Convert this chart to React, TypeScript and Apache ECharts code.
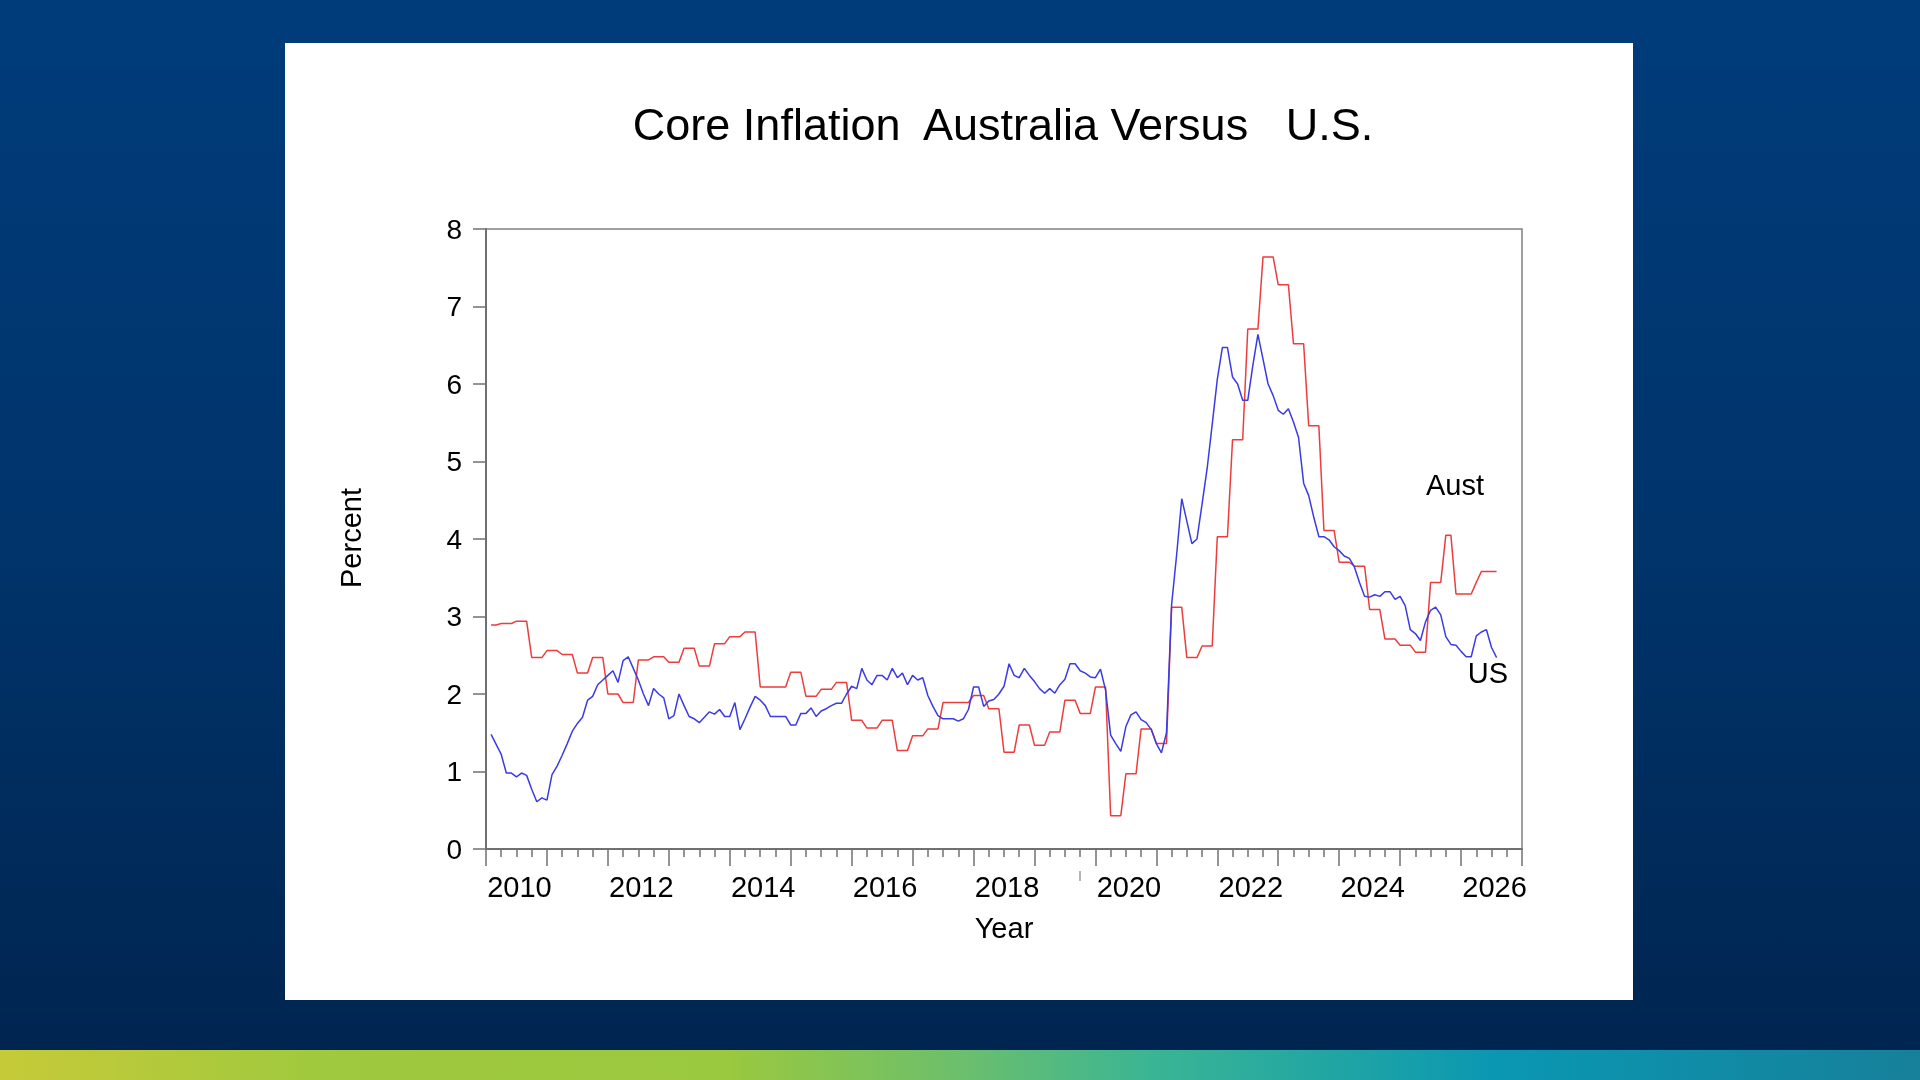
import React, { useEffect, useRef } from "react";
import * as echarts from "echarts";

// ---- Data ----
const START_YEAR = 2010; // month n (1 = Jan 2010) is plotted at START_YEAR + n/12

// US core inflation, monthly, Jan 2010 .. Jul 2026
const usMonthly: number[] = [
  1.48, 1.35, 1.22, 0.98, 0.98, 0.93, 0.98, 0.95, 0.77, 0.61, 0.66, 0.63,
  0.96, 1.07, 1.21, 1.36, 1.52, 1.62, 1.70, 1.92, 1.97, 2.12, 2.18, 2.24,
  2.30, 2.15, 2.43, 2.48, 2.33, 2.18, 2.00, 1.85, 2.07, 2.00, 1.95, 1.68,
  1.72, 2.00, 1.85, 1.71, 1.68, 1.63, 1.70, 1.77, 1.74, 1.80, 1.71, 1.71,
  1.89, 1.54, 1.68, 1.83, 1.97, 1.92, 1.85, 1.71, 1.71, 1.71, 1.71, 1.60,
  1.60, 1.75, 1.75, 1.82, 1.71, 1.78, 1.81, 1.85, 1.88, 1.88, 2.00, 2.10,
  2.07, 2.33, 2.18, 2.12, 2.24, 2.24, 2.18, 2.33, 2.21, 2.27, 2.12, 2.24,
  2.18, 2.21, 1.98, 1.84, 1.72, 1.68, 1.68, 1.68, 1.65, 1.68, 1.80, 2.09,
  2.09, 1.84, 1.91, 1.93, 2.00, 2.10, 2.39, 2.24, 2.21, 2.33, 2.24, 2.16,
  2.07, 2.01, 2.07, 2.01, 2.12, 2.19, 2.39, 2.39, 2.30, 2.27, 2.22, 2.21,
  2.32, 2.05, 1.47, 1.36, 1.26, 1.58, 1.73, 1.77, 1.67, 1.63, 1.54, 1.36,
  1.24, 1.50, 3.15, 3.80, 4.52, 4.23, 3.94, 4.00, 4.45, 4.91, 5.48, 6.06,
  6.47, 6.47, 6.09, 6.00, 5.79, 5.79, 6.24, 6.64, 6.32, 6.00, 5.85, 5.66,
  5.61, 5.68, 5.51, 5.31, 4.72, 4.56, 4.28, 4.03, 4.03, 3.99, 3.90, 3.85,
  3.78, 3.75, 3.64, 3.44, 3.26, 3.25, 3.28, 3.26, 3.32, 3.32, 3.22, 3.26,
  3.14, 2.83, 2.78, 2.69, 2.93, 3.08, 3.12, 3.02, 2.74, 2.64, 2.63, 2.55,
  2.48, 2.48, 2.75, 2.80, 2.83, 2.60, 2.47,
];

// Australian core inflation, quarterly steps; step k holds months 3k .. 3k+2
const austQuarterly: number[] = [
  2.89, 2.91, 2.94, 2.47, 2.56, 2.51, 2.27, 2.47, 2.00, 1.89,
  2.44, 2.48, 2.41, 2.59, 2.36, 2.65, 2.74, 2.80, 2.09, 2.09,
  2.28, 1.97, 2.06, 2.15, 1.66, 1.56, 1.66, 1.27, 1.46, 1.55,
  1.89, 1.89, 1.98, 1.81, 1.25, 1.60, 1.34, 1.51, 1.92, 1.75,
  2.09, 0.43, 0.97, 1.55, 1.36, 3.12, 2.47, 2.62, 4.03, 5.28,
  6.71, 7.64, 7.28, 6.52, 5.46, 4.11, 3.70, 3.65, 3.09, 2.71,
  2.63, 2.54, 3.44,
];
// Most recent Australian readings, monthly (months 189 .. 199)
const austMonthlyTail: number[] = [4.05, 4.05, 3.29, 3.29, 3.29, 3.29, 3.44, 3.58, 3.58, 3.58, 3.58];

// x-axis tick labels (every year is a category band; every 2nd label shown)
const yearLabels: string[] = [
  "2010", "2011", "2012", "2013", "2014", "2015", "2016", "2017", "2018",
  "2019", "2020", "2021", "2022", "2023", "2024", "2025", "2026",
];

const TITLE = "Core Inflation  Australia Versus   U.S.";
const FONT = "'Liberation Sans', Arial, Helvetica, sans-serif";

function buildSeries() {
  const us = usMonthly.map((v, i) => [START_YEAR + (i + 1) / 12, v]);
  const austMonths: number[] = [];
  const quarterMonths = austQuarterly.length * 3 - 1; // months 1 .. 188
  for (let n = 1; n <= quarterMonths; n++) austMonths.push(austQuarterly[Math.floor(n / 3)]);
  austMonthlyTail.forEach((v) => austMonths.push(v));
  const aust = austMonths.map((v, i) => [START_YEAR + (i + 1) / 12, v]);
  return { us, aust };
}

function label(text: string, x: number, y: number, size: number, extra: any = {}) {
  return {
    type: "text",
    z: 10,
    ...extra,
    style: {
      text, x: extra.rotation ? 0 : x, y: extra.rotation ? 0 : y,
      fontSize: size, fontFamily: FONT, fill: "#000",
      align: "center", verticalAlign: "middle",
      textAlign: "center", textVerticalAlign: "middle",
    },
  };
}

export default function App() {
  const ref = useRef<HTMLDivElement>(null);

  useEffect(() => {
    if (!ref.current) return;
    const chart = echarts.init(ref.current, undefined, { renderer: "svg" });
    const { us, aust } = buildSeries();
    const axisColor = "#707070";

    const option: any = {
      animation: false,
      graphic: [
        {
          type: "rect",
          z: -100,
          shape: { x: 0, y: 0, width: 1920, height: 1080 },
          style: {
            fill: {
              type: "linear", x: 0, y: 0, x2: 0, y2: 1,
              colorStops: [
                { offset: 0, color: "#003c7b" },
                { offset: 0.5, color: "#00346b" },
                { offset: 1, color: "#00244f" },
              ],
            },
          },
        },
        {
          type: "rect",
          z: -99,
          shape: { x: 0, y: 1050, width: 1920, height: 30 },
          style: {
            fill: {
              type: "linear", x: 0, y: 0, x2: 1, y2: 0,
              colorStops: [
                { offset: 0, color: "#c6ca38" },
                { offset: 0.17, color: "#9fc93e" },
                { offset: 0.38, color: "#9ac83f" },
                { offset: 0.5, color: "#6cbf6c" },
                { offset: 0.6, color: "#3ab594" },
                { offset: 0.78, color: "#0a97b2" },
                { offset: 1, color: "#17809a" },
              ],
            },
          },
        },
        {
          type: "rect",
          z: -98,
          shape: { x: 285, y: 43, width: 1348, height: 957 },
          style: { fill: "#ffffff" },
        },
        label(TITLE, 1003, 124, 45),
        label("Year", 1004, 928, 29),
        label("Percent", 351, 538, 29, { x: 351, y: 538, rotation: Math.PI / 2 }),
        label("Aust", 1455, 485, 29),
        label("US", 1488, 673, 29),
        {
          type: "line",
          z: 10,
          shape: { x1: 1080, y1: 871, x2: 1080, y2: 881 },
          style: { stroke: "#9a9a9a", lineWidth: 1.5 },
        },
      ],
      grid: {
        left: 486,
        top: 229,
        width: 1036,
        height: 620,
        show: true,
        borderColor: "#808080",
        borderWidth: 1.5,
        backgroundColor: "transparent",
        containLabel: false,
      },
      xAxis: [
        {
          type: "value",
          min: 2010,
          max: 2027,
          interval: 1,
          axisLine: { show: true, lineStyle: { color: axisColor, width: 2 } },
          axisTick: { show: true, length: 17, lineStyle: { color: axisColor, width: 1.5 } },
          minorTick: { show: true, splitNumber: 4, length: 8, lineStyle: { color: axisColor, width: 1.5 } },
          axisLabel: { show: false },
          splitLine: { show: false },
          minorSplitLine: { show: false },
        },
        {
          type: "category",
          data: yearLabels,
          boundaryGap: true,
          position: "bottom",
          axisLine: { show: false },
          axisTick: { show: false },
          splitLine: { show: false },
          axisLabel: {
            interval: 1,
            margin: 23,
            fontSize: 29,
            lineHeight: 29,
            padding: [0, 0, 0, 6],
            color: "#000",
            fontFamily: FONT,
          },
        },
      ],
      yAxis: {
        type: "value",
        min: 0,
        max: 8,
        interval: 1,
        axisLine: { show: true, lineStyle: { color: axisColor, width: 2 } },
        axisTick: { show: true, length: 13, lineStyle: { color: axisColor, width: 1.5 } },
        axisLabel: { margin: 24, fontSize: 28, color: "#000", fontFamily: FONT },
        splitLine: { show: false },
      },
      series: [
        {
          type: "line",
          name: "Aust",
          xAxisIndex: 0,
          data: aust,
          showSymbol: false,
          symbol: "none",
          lineStyle: { color: "#ec3d3d", width: 1.5 },
          z: 3,
        },
        {
          type: "line",
          name: "US",
          xAxisIndex: 0,
          data: us,
          showSymbol: false,
          symbol: "none",
          lineStyle: { color: "#3b3be4", width: 1.5 },
          z: 4,
        },
      ],
    };

    chart.setOption(option);
    return () => chart.dispose();
  }, []);

  return (
    <div
      ref={ref}
      style={{ position: "fixed", left: 0, top: 0, width: "1920px", height: "1080px" }}
    />
  );
}
